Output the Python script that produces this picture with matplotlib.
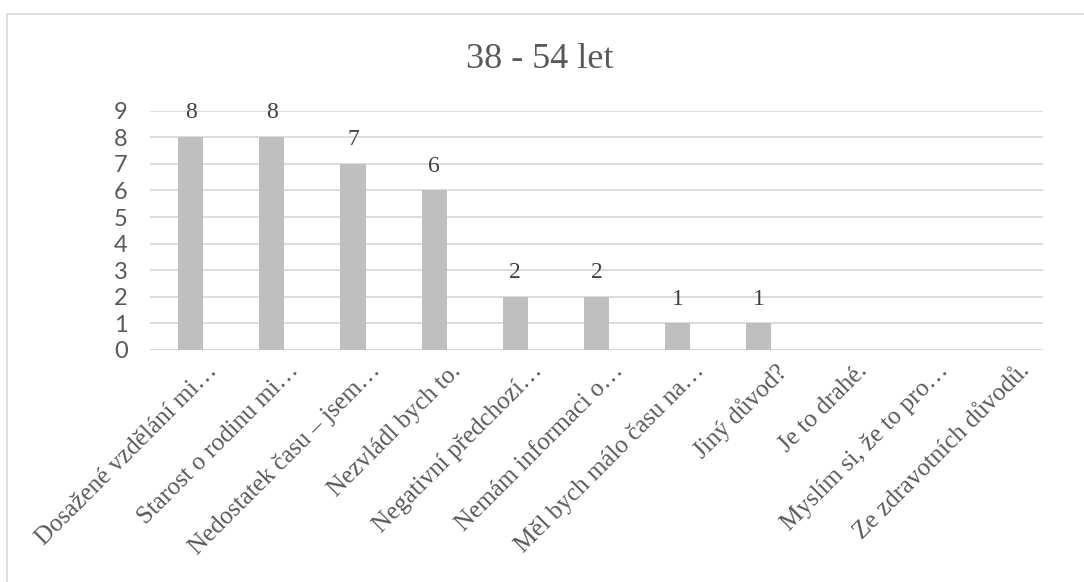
import matplotlib.pyplot as plt
from matplotlib.patches import Rectangle
from matplotlib.transforms import offset_copy

# Důvody a počty odpovědí, věková skupina 38-54 let
kategorie = [
    "Dosažené vzdělání mi…",
    "Starost o rodinu mi…",
    "Nedostatek času – jsem…",
    "Nezvládl bych to.",
    "Negativní předchozí…",
    "Nemám informaci o…",
    "Měl bych málo času na…",
    "Jiný důvod?",
    "Je to drahé.",
    "Myslím si, že to pro…",
    "Ze zdravotních důvodů.",
]
pocty = [8, 8, 7, 6, 2, 2, 1, 1, 0, 0, 0]
popisky = ["8", "8", "7", "6", "2", "2", "1", "1", "", "", ""]
y_ticks = list(range(0, 10))

serif = ["Liberation Serif", "DejaVu Serif"]
sans = ["Lato", "DejaVu Sans"]
text_col = "#595959"

fig = plt.figure(figsize=(10.84, 5.82), dpi=100)
# rámeček grafu (pravý a dolní okraj jsou mimo obrázek)
fig.patches.append(Rectangle((7 / 1084, -10 / 582), 1100 / 1084, 578 / 582,
                             transform=fig.transFigure, fill=False,
                             edgecolor="#D9D9D9", lw=1.3))

ax = fig.add_axes([150 / 1084, 1 - 350 / 582, 893 / 1084, (350 - 110.7) / 582])
x = range(len(kategorie))
bars = ax.bar(x, pocty, width=0.31, color="#BFBFBF", zorder=2)

for b, t in zip(bars, popisky):
    if t:
        ax.annotate(t, (b.get_x() + b.get_width() / 2, b.get_height()),
                    xytext=(0, 10), textcoords="offset points",
                    ha="center", va="bottom", fontsize=17, color="#404040",
                    family=serif)

ax.set_xlim(-0.5, len(kategorie) - 0.5)
ax.set_ylim(0, 9)
ax.set_yticks(y_ticks)
ax.set_yticklabels([str(v) for v in y_ticks], family=sans, fontsize=17,
                   color=text_col)
ax.yaxis.grid(True, color="#D9D9D9", lw=1.3, zorder=0)
ax.set_axisbelow(True)
for s in ax.spines.values():
    s.set_visible(False)
ax.axhline(0, color="#D9D9D9", lw=1.3, zorder=1)
ax.tick_params(axis="both", length=0)
ax.tick_params(axis="y", pad=16)

ax.set_xticks(list(x))
ax.set_xticklabels(kategorie, rotation=45, ha="right", rotation_mode="anchor",
                   family=serif, fontsize=18, color=text_col)
ax.tick_params(axis="x", pad=7)
for lbl in ax.get_xticklabels():
    lbl.set_transform(offset_copy(lbl.get_transform(), fig=fig, x=16, y=0,
                                  units="dots"))

fig.text(540 / 1084, 1 - 60 / 582, "38 - 54 let", ha="center", va="center",
         fontsize=26, color=text_col, family=serif)

fig.savefig("out.png", dpi=100)
